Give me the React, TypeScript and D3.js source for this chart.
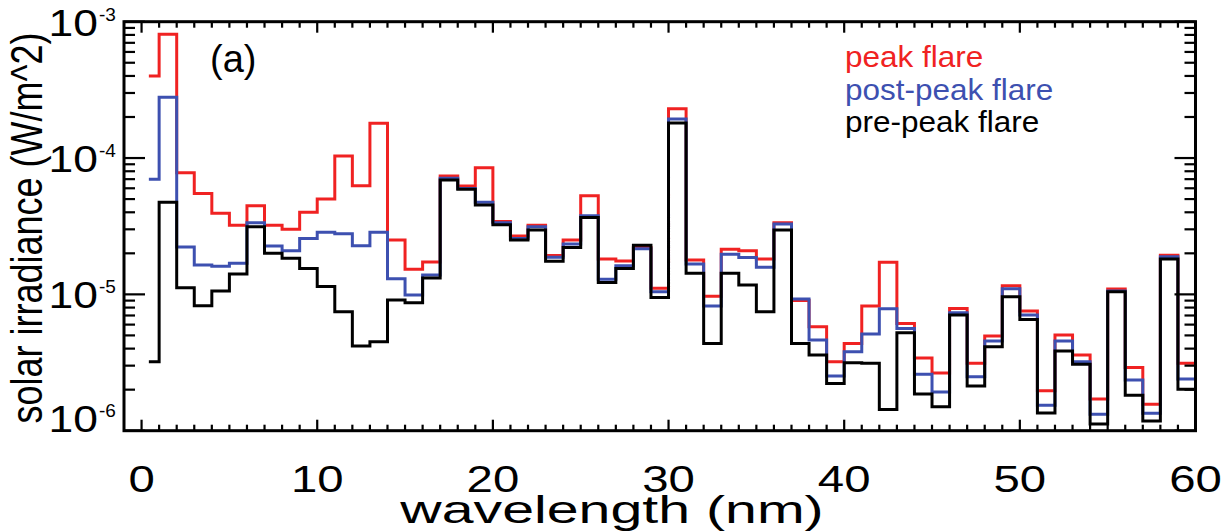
import React from "react";
import * as d3 from "d3";

// wavelength bin centres (nm)
const wavelengths = [
  0.5, 1.5, 2.5, 3.5, 4.5, 5.5, 6.5, 7.5, 8.5, 9.5,
  10.5, 11.5, 12.5, 13.5, 14.5, 15.5, 16.5, 17.5, 18.5, 19.5,
  20.5, 21.5, 22.5, 23.5, 24.5, 25.5, 26.5, 27.5, 28.5, 29.5,
  30.5, 31.5, 32.5, 33.5, 34.5, 35.5, 36.5, 37.5, 38.5, 39.5,
  40.5, 41.5, 42.5, 43.5, 44.5, 45.5, 46.5, 47.5, 48.5, 49.5,
  50.5, 51.5, 52.5, 53.5, 54.5, 55.5, 56.5, 57.5, 58.5, 59.5,
];

const peakFlare = [
  4.0e-4, 8.1e-4, 7.8e-5, 5.5e-5, 3.93e-5, 3.22e-5, 4.47e-5, 3.22e-5, 3.0e-5, 4.0e-5,
  5.0e-5, 1.035e-4, 6.26e-5, 1.8e-4, 2.5e-5, 1.53e-5, 1.73e-5, 7.38e-5, 6.23e-5, 8.49e-5,
  3.43e-5, 2.68e-5, 3.22e-5, 1.93e-5, 2.5e-5, 5.29e-5, 1.82e-5, 1.76e-5, 2.21e-5, 1.107e-5,
  2.3e-4, 1.79e-5, 9.7e-6, 2.14e-5, 2.09e-5, 1.82e-5, 3.35e-5, 9.0e-6, 5.78e-6, 3.2e-6,
  4.37e-6, 8.2e-6, 1.72e-5, 6.12e-6, 3.42e-6, 2.65e-6, 7.89e-6, 3.12e-6, 4.95e-6, 1.156e-5,
  7.54e-6, 1.96e-6, 5.03e-6, 3.59e-6, 1.71e-6, 1.094e-5, 2.91e-6, 1.56e-6, 1.94e-5, 3.12e-6,
];

const postPeakFlare = [
  7.0e-5, 2.79e-4, 2.23e-5, 1.64e-5, 1.61e-5, 1.69e-5, 3.35e-5, 2.26e-5, 2.09e-5, 2.57e-5,
  2.86e-5, 2.78e-5, 2.27e-5, 2.86e-5, 1.3e-5, 9.88e-6, 1.385e-5, 7.1e-5, 5.99e-5, 4.73e-5,
  3.35e-5, 2.57e-5, 3.13e-5, 1.87e-5, 2.34e-5, 3.77e-5, 1.29e-5, 1.62e-5, 2.16e-5, 1.045e-5,
  1.93e-4, 1.67e-5, 8.2e-6, 1.97e-5, 1.86e-5, 1.58e-5, 3.28e-5, 9.24e-6, 4.62e-6, 2.52e-6,
  3.79e-6, 5.11e-6, 7.84e-6, 5.63e-6, 2.6e-6, 1.92e-6, 7.33e-6, 2.49e-6, 4.54e-6, 1.1e-5,
  7.05e-6, 1.54e-6, 4.54e-6, 3.2e-6, 1.32e-6, 1.06e-5, 2.35e-6, 1.34e-6, 1.89e-5, 2.39e-6,
];

const prePeakFlare = [
  3.2e-6, 4.73e-5, 1.12e-5, 8.25e-6, 1.06e-5, 1.41e-5, 3.13e-5, 2.0e-5, 1.84e-5, 1.55e-5,
  1.14e-5, 7.45e-6, 4.18e-6, 4.49e-6, 9.08e-6, 8.68e-6, 1.32e-5, 6.9e-5, 5.89e-5, 4.52e-5,
  3.24e-5, 2.5e-5, 2.96e-5, 1.75e-5, 2.21e-5, 3.67e-5, 1.22e-5, 1.55e-5, 2.29e-5, 9.5e-6,
  1.81e-4, 1.43e-5, 4.37e-6, 1.43e-5, 1.17e-5, 7.45e-6, 2.96e-5, 4.37e-6, 3.59e-6, 2.22e-6,
  3.15e-6, 3.12e-6, 1.43e-6, 5.23e-6, 1.86e-6, 1.5e-6, 7.05e-6, 2.13e-6, 4.13e-6, 9.6e-6,
  6.55e-6, 1.35e-6, 3.84e-6, 3.07e-6, 1.12e-6, 1.045e-5, 1.82e-6, 1.18e-6, 1.82e-5, 2.01e-6,
];

const xTickLabels = ["0", "10", "20", "30", "40", "50", "60"];
const yDecadeExponents = ["-3", "-4", "-5", "-6"];
const seriesNames = ["peak flare", "post-peak flare", "pre-peak flare"];

const W = 1228;
const H = 531;
const M = { left: 124, right: 1195.5, top: 21.7, bottom: 430.7 };
const RED = "#f02222";
const BLUE = "#3d50b0";
const BLACK = "#000000";

export default function App() {
  const x = d3.scaleLinear().domain([-1, 60]).range([M.left, M.right]);
  const y = d3.scaleLog().domain([1e-6, 1e-3]).range([M.bottom, M.top]);

  const buildPath = (vals: number[]) => {
    const pts: [number, number][] = wavelengths.map((c, i) => [
      Math.max(0.5, c - 0.5),
      vals[i],
    ]);
    const lastC = wavelengths[wavelengths.length - 1];
    pts.push([lastC + 0.5, vals[vals.length - 1]]);
    return d3
      .line<[number, number]>()
      .x((d) => x(d[0]))
      .y((d) => y(d[1]))
      .curve(d3.curveStepAfter)(pts) as string;
  };

  const series = [
    { name: seriesNames[0], vals: peakFlare, color: RED },
    { name: seriesNames[1], vals: postPeakFlare, color: BLUE },
    { name: seriesNames[2], vals: prePeakFlare, color: BLACK },
  ];

  const xMinor = d3.range(0, 61, 1);
  const xMajor = xTickLabels.map((t) => +t);
  const yMajor = yDecadeExponents.map((e) => Math.pow(10, +e));
  const yMinor: number[] = [];
  [1e-6, 1e-5, 1e-4].forEach((dec) => {
    for (let k = 2; k <= 9; k++) yMinor.push(dec * k);
  });

  const font = "'Liberation Sans', Arial, Helvetica, sans-serif";

  return (
    <svg width={W} height={H} style={{ position: "absolute", left: 0, top: 0, background: "#fff" }}>
      <rect x={0} y={0} width={W} height={H} fill="#fff" />
      <defs>
        <clipPath id="plotclip">
          <rect x={M.left} y={M.top} width={M.right - M.left} height={M.bottom - M.top} />
        </clipPath>
      </defs>

      <g clipPath="url(#plotclip)">
        {series.map((s) => (
          <path
            key={s.name}
            d={buildPath(s.vals)}
            fill="none"
            stroke={s.color}
            strokeWidth={3}
            strokeLinejoin="miter"
            strokeLinecap="square"
          />
        ))}
      </g>

      {/* ticks */}
      <g stroke="#000" strokeWidth={2.2}>
        {xMinor.map((v) => {
          const major = xMajor.includes(v);
          const len = major ? 11 : 6;
          return (
            <g key={"xt" + v}>
              <line x1={x(v)} x2={x(v)} y1={M.bottom} y2={M.bottom - len} />
              <line x1={x(v)} x2={x(v)} y1={M.top} y2={M.top + len} />
            </g>
          );
        })}
        {yMajor.map((v) => (
          <g key={"yM" + v}>
            <line x1={M.left} x2={M.left + 21} y1={y(v)} y2={y(v)} />
            <line x1={M.right} x2={M.right - 21} y1={y(v)} y2={y(v)} />
          </g>
        ))}
        {yMinor.map((v) => (
          <g key={"ym" + v}>
            <line x1={M.left} x2={M.left + 11} y1={y(v)} y2={y(v)} />
            <line x1={M.right} x2={M.right - 11} y1={y(v)} y2={y(v)} />
          </g>
        ))}
      </g>

      <rect
        x={M.left}
        y={M.top}
        width={M.right - M.left}
        height={M.bottom - M.top}
        fill="none"
        stroke="#000"
        strokeWidth={3}
      />

      {/* x tick labels */}
      <g fontFamily={font} fontSize={37} fill="#000">
        {xTickLabels.map((t) => (
          <text
            key={"xl" + t}
            transform={`translate(${x(+t)},492) scale(1.28,1)`}
            textAnchor="middle"
          >
            {t}
          </text>
        ))}
      </g>

      {/* y tick labels */}
      <g fontFamily={font} fill="#000">
        {yDecadeExponents.map((e, i) => {
          const v = Math.pow(10, +e);
          const base = i === 3 ? y(v) + 1 : y(v) + 14;
          return (
            <g key={"yl" + e} transform={`translate(0,${base})`}>
              <text
                transform={`translate(98,0) scale(1.2,1)`}
                textAnchor="end"
                fontSize={37}
              >
                10
              </text>
              <text x={99} y={-15} textAnchor="start" fontSize={19}>
                {e}
              </text>
            </g>
          );
        })}
      </g>

      {/* axis titles */}
      <text
        transform={`translate(612,523) scale(1.45,1)`}
        textAnchor="middle"
        fontFamily={font}
        fontSize={39.5}
        fill="#000"
      >
        wavelength (nm)
      </text>
      <text
        transform={`translate(42,228) rotate(-90) scale(1,1.25)`}
        textAnchor="middle"
        fontFamily={font}
        fontSize={36}
        fill="#000"
      >
        solar irradiance (W/m^2)
      </text>

      {/* panel label */}
      <text x={210} y={72} fontFamily={font} fontSize={38} fill="#000">
        (a)
      </text>

      {/* legend */}
      <g fontFamily={font} fontSize={30}>
        {series.map((s, i) => (
          <text
            key={"lg" + s.name}
            transform={`translate(845,${67 + i * 32.5}) scale(1.05,1)`}
            fill={s.color}
          >
            {s.name}
          </text>
        ))}
      </g>
    </svg>
  );
}
